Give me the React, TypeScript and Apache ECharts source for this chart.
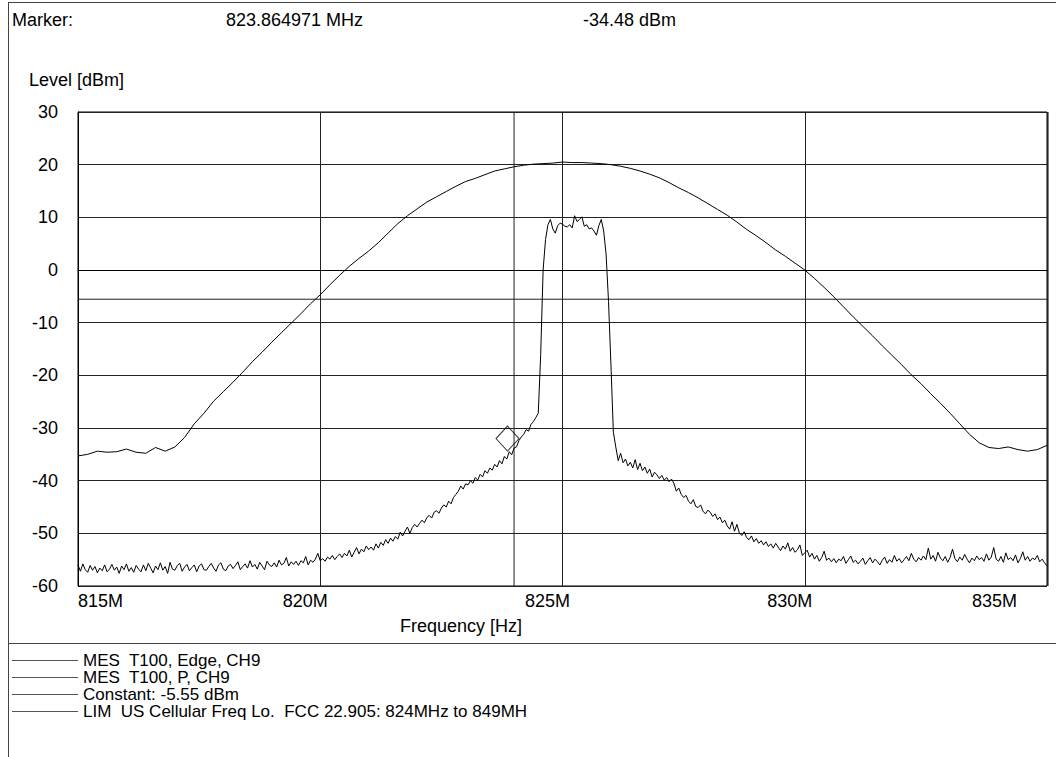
import React, { useEffect, useRef } from "react";
import * as echarts from "echarts";

const FONT = '"Liberation Sans", Arial, sans-serif';

const MARKER_FREQ = 823.864971;
const MARKER_LEVEL = -34.48;
const CONSTANT_LEVEL = -5.55;
const LIM_FREQ = 824;

const X_MIN = 815;
const X_MAX = 835;
const X_INTERVAL = 5;
const Y_MIN = -60;
const Y_MAX = 30;
const Y_INTERVAL = 10;

const LEGEND_NAMES = [
  "MES  T100, Edge, CH9",
  "MES  T100, P, CH9",
  "Constant: -5.55 dBm",
  "LIM  US Cellular Freq Lo.  FCC 22.905: 824MHz to 849MH",
];

// Edge trace: sweep from 815 MHz, 0.2 MHz per point
const EDGE_START = 815;
const EDGE_STEP = 0.2;
const EDGE_LEVELS = [
  -35.3, -35.0, -34.4, -34.6, -34.5, -34.0, -34.6, -34.8, -33.7, -34.4,
  -33.6, -31.8, -29.2, -27.2, -24.9, -23.1, -21.3, -19.4, -17.4, -15.6,
  -13.7, -11.9, -10.1, -8.3, -6.4, -4.7, -2.8, -1.0, 0.7, 2.2,
  3.6, 5.2, 7.0, 8.8, 10.3, 11.6, 12.9, 13.9, 14.9, 15.9,
  16.8, 17.4, 18.1, 18.8, 19.2, 19.6, 19.9, 20.1, 20.2, 20.3,
  20.5, 20.4, 20.4, 20.3, 20.2, 20.0, 19.7, 19.3, 18.8, 18.2,
  17.5, 16.6, 15.6, 14.7, 13.7, 12.6, 11.5, 10.4, 9.1, 7.7,
  6.5, 5.2, 3.8, 2.6, 1.3, 0.0, -1.6, -3.3, -5.1, -7.0,
  -8.9, -10.7, -12.5, -14.4, -16.2, -18.0, -19.9, -21.6, -23.5, -25.3,
  -27.2, -29.2, -31.2, -32.8, -33.7, -33.9, -33.6, -34.1, -34.4, -34.1,
  -33.3,
];

// P trace: sweep from 815 MHz, 0.05 MHz per point
const P_START = 815;
const P_STEP = 0.05;
const P_LEVELS = [
  -56.0, -57.2, -55.8, -56.9, -57.4, -56.1, -57.0, -56.3, -57.5, -56.6,
  -57.1, -56.0, -57.3, -56.8, -55.9, -57.0, -56.4, -57.6, -56.2, -56.9,
  -55.8, -57.2, -56.5, -57.4, -56.1, -56.8, -57.3, -56.0, -57.1, -55.7,
  -56.6, -57.5, -56.2, -56.9, -55.6, -57.0, -56.3, -57.6, -55.5, -56.8,
  -57.0, -56.1, -55.7, -57.2, -56.4, -55.9, -57.1, -56.5, -56.0, -57.3,
  -56.2, -55.8, -56.9, -57.0, -56.3, -55.7, -56.6, -57.2, -56.0, -55.6,
  -56.8, -57.1, -56.2, -55.9, -56.7, -56.1, -55.4, -56.9, -56.3, -55.8,
  -56.6, -55.2, -56.4, -55.9, -56.8, -55.5, -56.2, -56.9, -55.3, -56.0,
  -56.3,
  -55.6, -56.4, -55.1, -56.0, -55.7, -54.6, -56.2, -55.4, -55.9, -55.3,
  -56.1, -55.2, -55.6, -54.4, -56.0, -55.1, -55.5, -54.9, -53.8, -55.2,
  -54.8, -55.3, -54.5, -54.9, -54.2, -55.0, -54.4, -53.9, -54.6, -53.8,
  -54.3, -53.2, -54.5, -53.6, -52.7, -53.9, -53.0, -53.5, -52.4, -53.1,
  -52.6, -53.2, -52.0, -52.8, -51.7, -52.3, -51.2, -51.9, -50.9, -51.5,
  -50.6, -51.1, -49.8, -50.5, -49.6, -48.8, -50.0, -48.9, -48.3, -48.8,
  -48.1, -47.5, -48.0, -47.0, -46.6, -47.1, -46.0, -45.7, -46.2, -45.2,
  -44.6, -45.0, -43.9, -44.4, -43.2, -42.6, -42.0, -41.0, -41.6, -40.6,
  -40.8, -40.0, -40.5, -39.4, -39.9, -38.8, -39.3, -38.1, -38.6, -37.6,
  -38.0, -36.9, -37.4, -36.2, -36.8, -35.4, -35.9, -34.5, -35.1, -33.8,
  -33.6, -32.4, -31.7, -31.2, -30.3, -30.6, -29.3, -28.8, -28.0, -27.2,
  -16.0, 0.0, 5.8, 8.6, 9.6, 7.8, 7.0, 8.4, 8.9, 8.7,
  8.3, 8.2, 8.6, 8.0, 10.3, 9.2, 9.6, 10.1, 8.3, 8.6,
  7.8, 8.0, 7.4, 6.6, 8.4, 9.6, 7.4, 3.0, -6.0, -18.0,
  -30.8, -33.6,
  -36.2, -34.8, -36.6, -35.9, -37.2, -36.5, -37.6, -36.0, -37.9, -36.7,
  -38.1, -37.4, -38.6, -37.8, -39.3, -38.4, -38.9, -39.6,
  -39.0, -39.9, -39.4, -40.2, -39.7, -40.5, -42.0, -41.4, -42.6, -43.2,
  -42.8, -43.9, -44.4, -43.6, -44.9, -45.1, -44.6, -45.8, -46.3, -45.6,
  -46.0, -46.8, -46.3, -47.4, -46.9, -48.0, -47.5, -48.6, -49.2, -47.8,
  -49.6, -48.3, -49.9, -50.4, -49.7, -50.8, -51.2, -50.5, -51.6, -51.0,
  -51.9, -51.4, -52.2, -51.6, -52.5, -52.0, -52.8, -51.9, -52.6, -53.3,
  -52.4, -53.0, -51.8, -53.4, -52.7, -53.6, -53.1, -52.2, -54.2, -53.7,
  -53.2, -54.5, -53.8, -54.9, -54.2, -55.3, -54.6, -53.4, -55.1, -54.7,
  -55.4, -54.8, -55.6, -54.9, -55.2, -54.4, -55.7, -55.0, -54.3, -55.5,
  -55.1, -55.8, -55.3, -54.7, -55.9, -55.2, -54.6, -55.6, -54.9, -55.4,
  -56.0, -55.1, -54.5, -55.7, -55.0, -55.5, -54.2, -55.3, -54.8, -55.6,
  -55.0, -54.4, -55.2, -53.8, -54.9, -55.4, -54.6, -55.1, -54.3, -55.0,
  -52.8, -54.9, -54.2, -55.3, -53.6, -54.7, -55.2, -54.4, -55.5, -54.6,
  -53.0, -54.8, -55.4, -54.5, -55.1, -54.0, -54.9, -55.6, -54.7, -55.2,
  -54.3, -55.0, -54.6, -55.3, -53.9, -55.1, -54.5, -52.7, -54.9, -55.3,
  -54.4, -55.5, -53.7, -55.0, -54.6, -55.2, -54.1, -55.6, -54.8, -53.5,
  -55.1, -54.4, -55.3, -54.7, -55.0, -54.2, -55.4, -54.9, -55.6, -56.2,
];

const sweep = (start: number, step: number, levels: number[]) =>
  levels.map((v, i) => [Math.round((start + i * step) * 1000) / 1000, v]);

export default function App() {
  const ref = useRef<HTMLDivElement>(null);

  useEffect(() => {
    if (!ref.current) return;
    const chart = echarts.init(ref.current, undefined, { renderer: "svg" });
    const lineCommon = {
      type: "line",
      symbol: "none",
      showSymbol: false,
      silent: true,
      z: 3,
    };
    const textStyle = { fontFamily: FONT, fontSize: 18, fill: "#000" };
    chart.setOption({
      animation: false,
      backgroundColor: "#fff",
      textStyle: { fontFamily: FONT },
      grid: {
        left: 78,
        right: 9,
        top: 112,
        bottom: 171,
        show: true,
        borderColor: "#000",
        borderWidth: 1,
        backgroundColor: "transparent",
      },
      xAxis: {
        type: "value",
        min: X_MIN,
        max: X_MAX,
        interval: X_INTERVAL,
        axisLine: { show: true, lineStyle: { color: "#000", width: 1 } },
        axisTick: { show: false },
        splitLine: { show: true, lineStyle: { color: "#222", width: 1 } },
        axisLabel: {
          show: true,
          margin: 6,
          alignMinLabel: "left",
          alignMaxLabel: "right",
          formatter: (v: number) => `{a|${v}M}{p|}`,
          rich: {
            a: { fontFamily: FONT, fontSize: 18, color: "#000" },
            p: { width: 30 },
          },
        },
      },
      yAxis: {
        type: "value",
        min: Y_MIN,
        max: Y_MAX,
        interval: Y_INTERVAL,
        axisLine: { show: true, lineStyle: { color: "#000", width: 1 } },
        axisTick: { show: false },
        splitLine: { show: true, lineStyle: { color: "#222", width: 1 } },
        axisLabel: {
          margin: 20,
          fontFamily: FONT,
          fontSize: 18,
          color: "#000",
        },
      },
      legend: {
        show: true,
        orient: "vertical",
        left: 12,
        top: 652,
        padding: 0,
        icon: "rect",
        itemWidth: 66,
        itemHeight: 1,
        itemGap: 0,
        selectedMode: false,
        data: LEGEND_NAMES,
        itemStyle: { color: "#555", borderWidth: 0 },
        textStyle: {
          fontFamily: FONT,
          fontSize: 17,
          lineHeight: 17,
          color: "#000",
        },
      },
      series: [
        {
          ...lineCommon,
          name: LEGEND_NAMES[0],
          data: sweep(EDGE_START, EDGE_STEP, EDGE_LEVELS),
          lineStyle: { color: "#000", width: 1 },
          itemStyle: { color: "#000" },
        },
        {
          ...lineCommon,
          name: LEGEND_NAMES[1],
          data: sweep(P_START, P_STEP, P_LEVELS),
          lineStyle: { color: "#000", width: 1 },
          itemStyle: { color: "#000" },
        },
        {
          ...lineCommon,
          name: LEGEND_NAMES[2],
          data: [
            [X_MIN, CONSTANT_LEVEL],
            [X_MAX, CONSTANT_LEVEL],
          ],
          lineStyle: { color: "#222", width: 1 },
          itemStyle: { color: "#222" },
          z: 2,
        },
        {
          ...lineCommon,
          name: LEGEND_NAMES[3],
          data: [
            [LIM_FREQ, Y_MIN],
            [LIM_FREQ, Y_MAX],
          ],
          lineStyle: { color: "#222", width: 1 },
          itemStyle: { color: "#222" },
          z: 2,
        },
        {
          type: "scatter",
          name: "Marker",
          silent: true,
          data: [[MARKER_FREQ, MARKER_LEVEL]],
          symbol: "diamond",
          symbolSize: [23, 25],
          symbolOffset: [0, -13],
          itemStyle: { color: "transparent", borderColor: "#000", borderWidth: 1 },
          z: 5,
        },
      ],
      graphic: [
        { type: "line", shape: { x1: 8, y1: 2.5, x2: 1056, y2: 2.5 }, style: { stroke: "#444", lineWidth: 1 }, silent: true },
        { type: "line", shape: { x1: 8.5, y1: 2, x2: 8.5, y2: 757 }, style: { stroke: "#444", lineWidth: 1 }, silent: true },
        { type: "line", shape: { x1: 8, y1: 643.5, x2: 1056, y2: 643.5 }, style: { stroke: "#444", lineWidth: 1 }, silent: true },
        { type: "line", shape: { x1: 1048, y1: 112, x2: 1048, y2: 586 }, style: { stroke: "#000", lineWidth: 1 }, silent: true },
        { type: "text", x: 12, y: 20, style: { ...textStyle, text: "Marker:", verticalAlign: "middle" }, silent: true },
        { type: "text", x: 226, y: 20, style: { ...textStyle, text: `${MARKER_FREQ.toFixed(6)} MHz`, verticalAlign: "middle" }, silent: true },
        { type: "text", x: 583, y: 20, style: { ...textStyle, text: `${MARKER_LEVEL.toFixed(2)} dBm`, verticalAlign: "middle" }, silent: true },
        { type: "text", x: 29, y: 80, style: { ...textStyle, text: "Level [dBm]", verticalAlign: "middle" }, silent: true },
        { type: "text", x: 400, y: 626, style: { ...textStyle, text: "Frequency [Hz]", verticalAlign: "middle" }, silent: true },
      ],
    });
    return () => chart.dispose();
  }, []);

  return (
    <div
      ref={ref}
      style={{ position: "fixed", left: 0, top: 0, width: 1056, height: 757, background: "#fff" }}
    />
  );
}
